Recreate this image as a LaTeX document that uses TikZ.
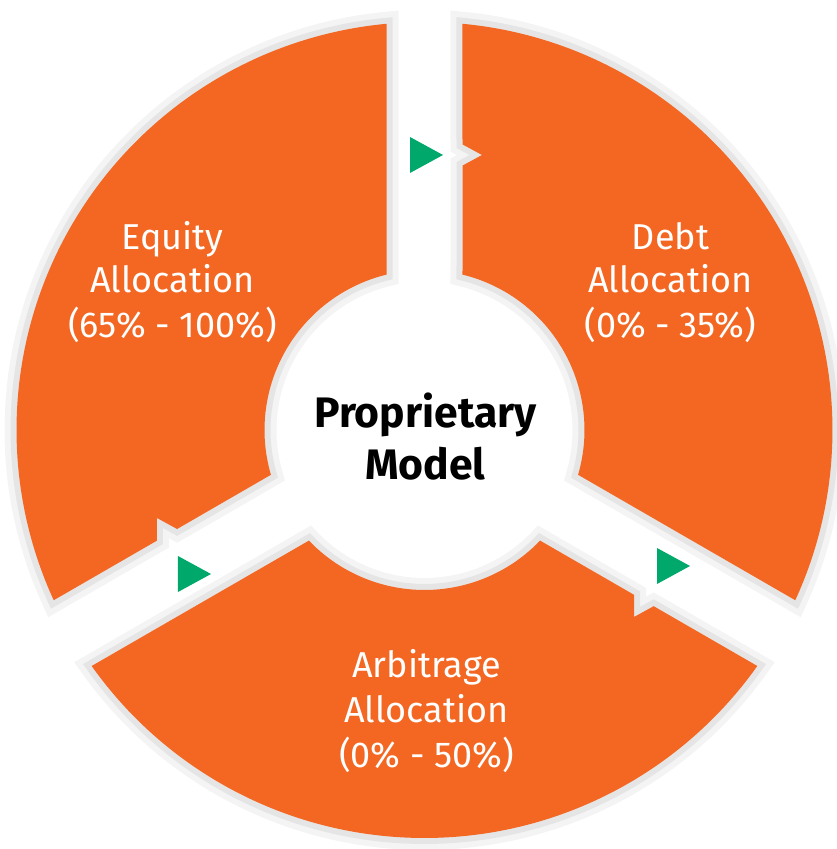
\documentclass[tikz,border=0pt]{standalone}
\usepackage{fontspec}
\setmainfont{Fira Sans}
\definecolor{segorange}{RGB}{243,103,34}
\definecolor{arrowgreen}{RGB}{0,168,107}
\definecolor{rimlight}{RGB}{244,244,244}
\definecolor{rimdark}{RGB}{229,229,229}
\begin{document}
\begin{tikzpicture}[x=0.75pt,y=0.75pt,
  segment/.style={fill=segorange,
    preaction={draw=rimlight, line width=18pt, line join=miter},
    preaction={draw=rimdark, line width=9pt, line join=miter}},
  arrowtri/.style={fill=arrowgreen},
  lbl/.style={font=\fontsize{27}{32}\selectfont, text=white, anchor=base, inner sep=0pt},
  hub/.style={font=\fontsize{32}{38}\selectfont\bfseries, text=black, anchor=base, inner sep=0pt}]
\useasboundingbox (-424.5,-419) rectangle (412.5,430);
% Debt segment
\path[segment] (76.26:160) -- (38,264.4) -- (57.5,275) -- (38,285.6) -- (84.66:408)
  arc[start angle=84.66, end angle=-24.66, radius=408] -- (-16.26:160)
  arc[start angle=-16.26, end angle=76.26, radius=160] -- cycle;
% Equity segment
\path[segment] (103.74:160) -- (95.34:408)
  arc[start angle=95.34, end angle=204.66, radius=408]
  -- (-267.5,-110.6) -- (-267.5,-88) -- (-247.4,-99) -- (196.26:160)
  arc[start angle=196.26, end angle=103.74, radius=160] -- cycle;
% Arbitrage segment
\path[segment] (223.74:160) -- (215.34:408)
  arc[start angle=215.34, end angle=324.66, radius=408]
  -- (229.2,-176.2) -- (209.5,-187) -- (209.5,-164.8) -- (316.26:160)
  arc[start angle=316.26, end angle=223.74, radius=160] -- cycle;
% green arrows
\path[arrowtri] (-14.5,293) -- (18.5,275) -- (-14.5,257) -- cycle;
\path[arrowtri] (-246.5,-126) -- (-213.5,-144) -- (-246.5,-162) -- cycle;
\path[arrowtri] (232.5,-118) -- (265.5,-136) -- (232.5,-154) -- cycle;
% labels
\node[lbl] (eq1) at (-252,180) {Equity};
\node[lbl] (eq2) at (-252,137) {Allocation};
\node[lbl] (eq3) at (-252,92) {(65\% - 100\%)};
\node[lbl] (de1) at (246,180) {Debt};
\node[lbl] (de2) at (246,137) {Allocation};
\node[lbl] (de3) at (246,92) {(0\% - 35\%)};
\node[lbl] (ar1) at (2,-247) {Arbitrage};
\node[lbl] (ar2) at (2,-292) {Allocation};
\node[lbl] (ar3) at (2,-337) {(0\% - 50\%)};
\node[hub] (pm1) at (1,2) {Proprietary};
\node[hub] (pm2) at (1,-50) {Model};
\end{tikzpicture}
\end{document}
